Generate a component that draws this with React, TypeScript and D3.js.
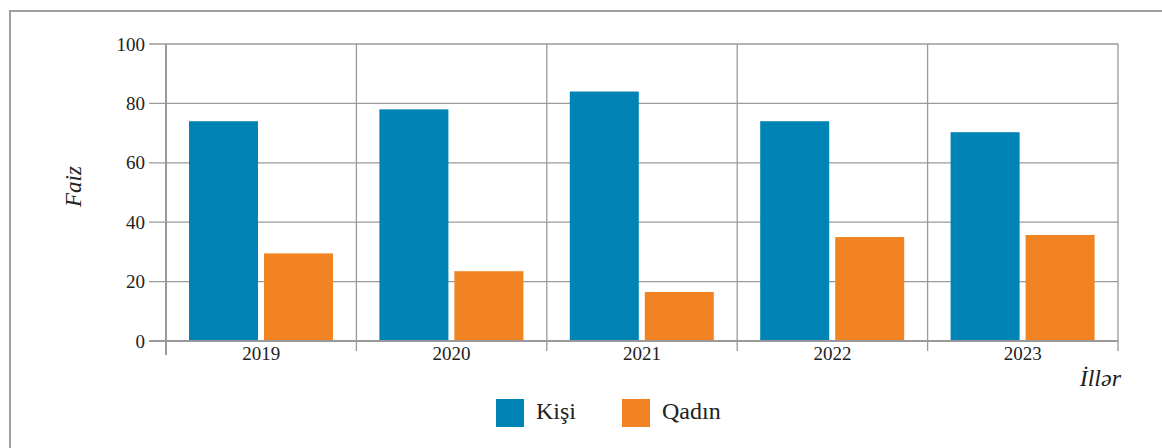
import * as d3 from 'd3';

const years = ['2019', '2020', '2021', '2022', '2023'];
const kisi = [74, 78, 84, 74, 70.3];
const qadin = [29.5, 23.5, 16.5, 35, 35.7];
const yTicks = [0, 20, 40, 60, 80, 100];
const seriesNames = ['Kişi', 'Qadın'];
const colors = ['#0084B6', '#F28322'];

const w = 1162;
const h = 448;
const left = 166;
const right = 1118;
const top = 44;
const bottom = 341;
const font = 'Liberation Serif, Times New Roman, serif';
const grid = '#9a9a9a';
const ink = '#222';

function App() {
    const x = d3.scaleBand().domain(years).range([left, right]);
    const y = d3.scaleLinear().domain([0, 100]).range([bottom, top]);
    const inner = d3
        .scaleBand()
        .domain(seriesNames)
        .range([23, 23 + 144])
        .paddingInner(0.08);
    const series = [kisi, qadin];
    const legendX = [496, 622];

    return (
        <div style={{ position: 'absolute', left: 0, top: 0 }}>
            <svg width={w} height={h} fontFamily={font} style={{ display: 'block' }}>
                {/* outer frame */}
                <rect x={10} y={11} width={w + 20} height={h + 20} fill="white" stroke="#a0a0a0" strokeWidth={2} />

                {/* horizontal grid */}
                {yTicks.filter((t) => t > 0).map((t) => (
                    <line key={'h' + t} x1={left - 17} x2={right} y1={y(t)} y2={y(t)} stroke={grid} strokeWidth={1.3} />
                ))}

                {/* vertical grid at category boundaries */}
                {years.map((yr) => {
                    const xx = (x(yr) as number) + x.bandwidth();
                    return <line key={'v' + yr} x1={xx} x2={xx} y1={top} y2={bottom + 10} stroke={grid} strokeWidth={1.3} />;
                })}

                {/* bars */}
                {series.map((vals, si) =>
                    vals.map((v, i) => (
                        <rect
                            key={si + '-' + i}
                            x={(x(years[i]) as number) + (inner(seriesNames[si]) as number)}
                            y={y(v)}
                            width={inner.bandwidth()}
                            height={bottom - y(v)}
                            fill={colors[si]}
                        />
                    ))
                )}

                {/* axes */}
                <line x1={left} x2={left} y1={top} y2={bottom + 14} stroke={grid} strokeWidth={2} />
                <line x1={left - 17} x2={right} y1={bottom} y2={bottom} stroke={grid} strokeWidth={2.2} />

                {/* y tick labels */}
                {yTicks.map((t) => (
                    <text key={'yt' + t} x={left - 21} y={y(t)} dy="0.35em" textAnchor="end" fontSize={19} fill={ink}>
                        {t}
                    </text>
                ))}

                {/* x tick labels */}
                {years.map((yr) => (
                    <text
                        key={'xt' + yr}
                        x={(x(yr) as number) + x.bandwidth() / 2}
                        y={bottom + 19}
                        textAnchor="middle"
                        fontSize={19}
                        fill={ink}
                    >
                        {yr}
                    </text>
                ))}

                {/* axis titles */}
                <text
                    transform={`translate(81, ${(top + bottom) / 2 - 6}) rotate(-90)`}
                    textAnchor="middle"
                    fontSize={23}
                    fill={ink}
                    fontStyle="italic"
                >
                    Faiz
                </text>
                <text x={1121} y={386} textAnchor="end" fontSize={24} fill={ink} fontStyle="italic">
                    İllər
                </text>

                {/* legend */}
                {seriesNames.map((name, i) => (
                    <g key={name}>
                        <rect x={legendX[i]} y={399} width={28} height={28} fill={colors[i]} />
                        <text x={legendX[i] + 40} y={419} fontSize={24} fill={ink}>
                            {name}
                        </text>
                    </g>
                ))}
            </svg>
        </div>
    );
}

export default App;
